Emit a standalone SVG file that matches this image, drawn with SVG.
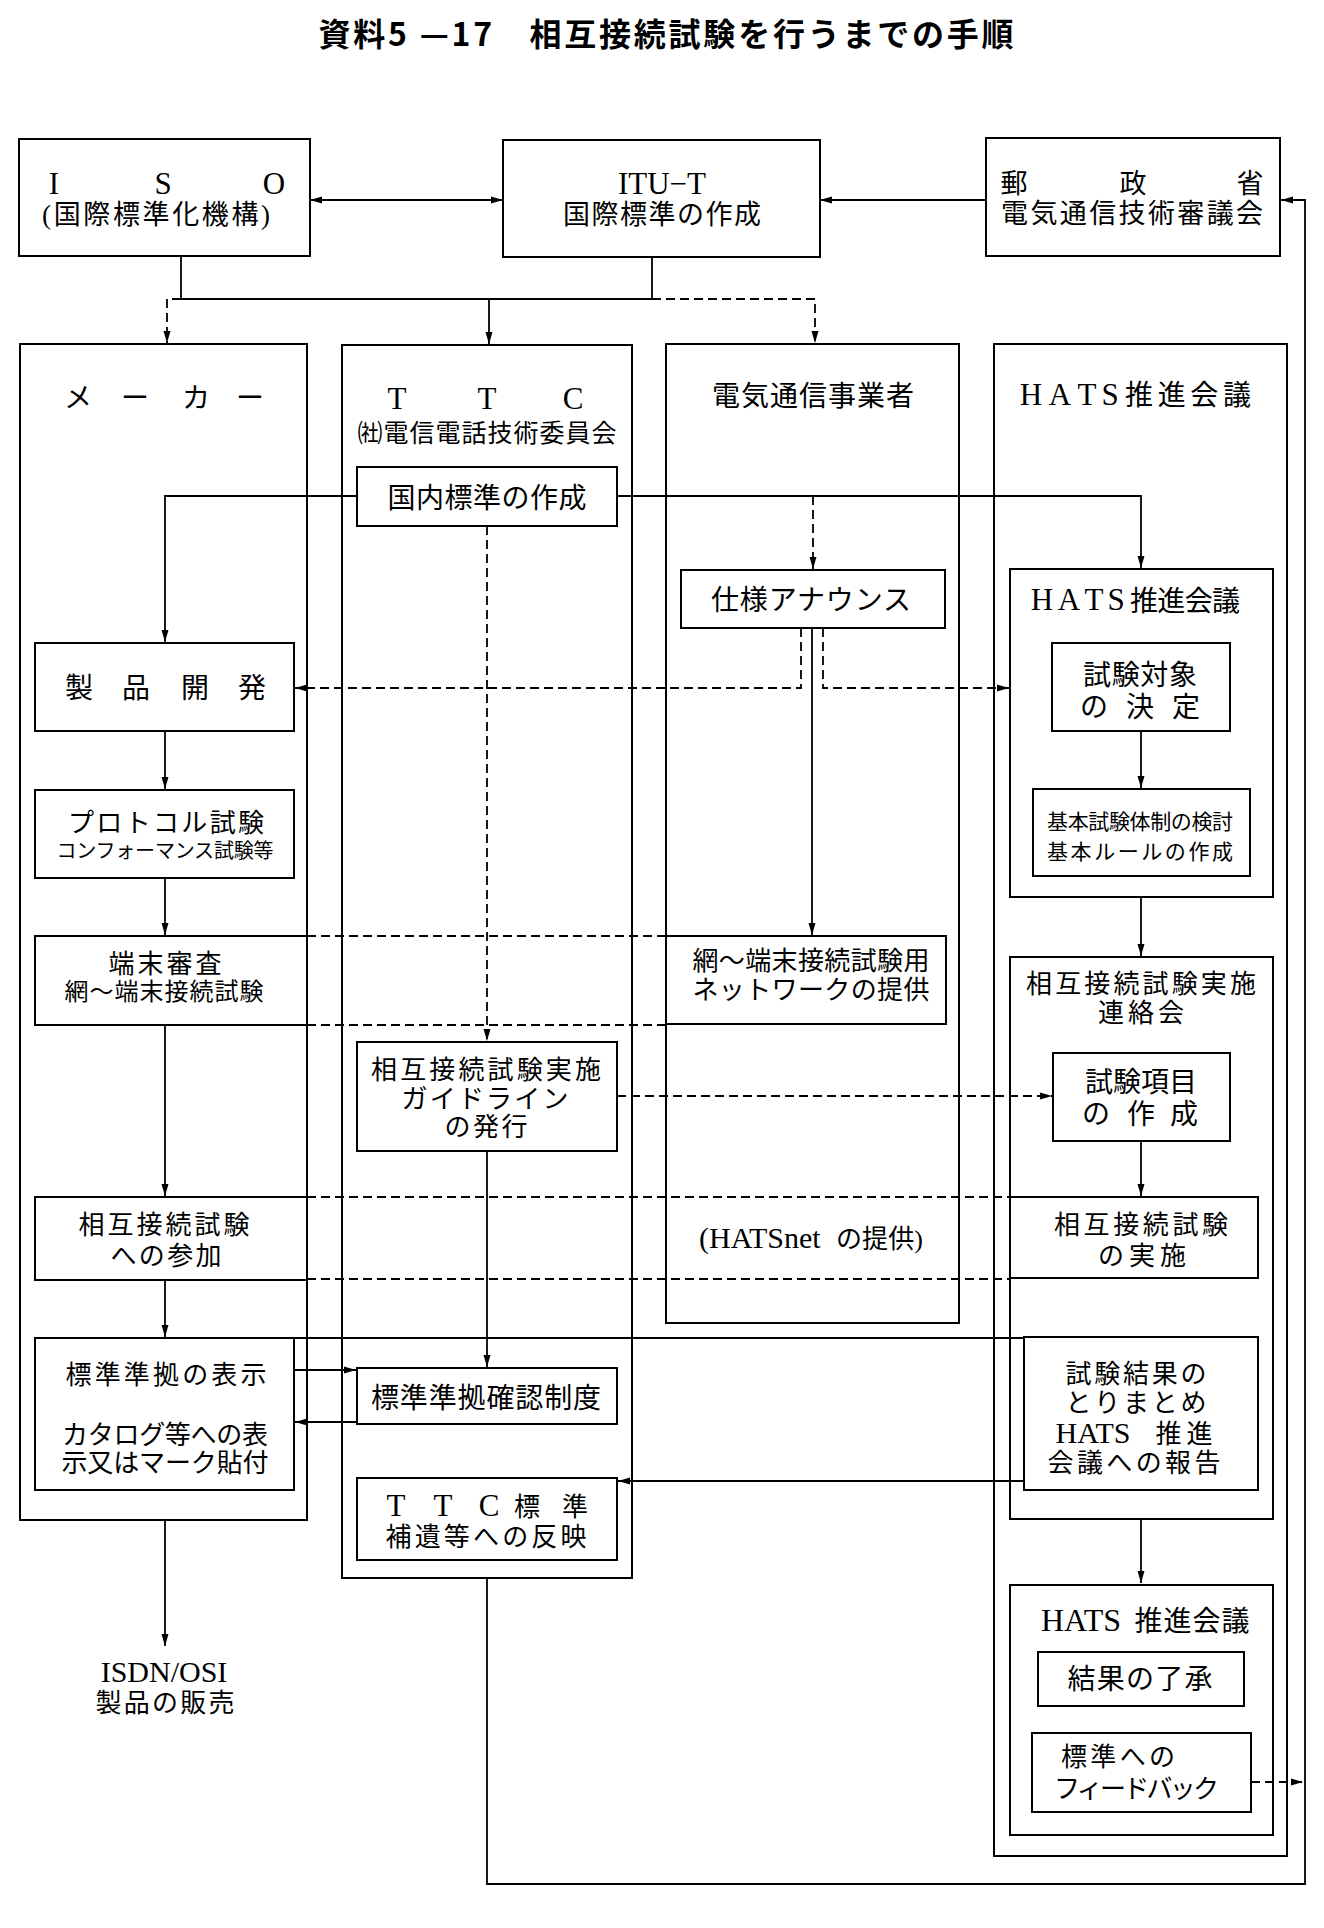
<svg xmlns="http://www.w3.org/2000/svg" width="1324" height="1928" viewBox="0 0 1324 1928">
<style>
.b{fill:none;stroke:#000;stroke-width:2}
.c{fill:none;stroke:#000;stroke-width:1.8}
.d{fill:none;stroke:#000;stroke-width:1.8;stroke-dasharray:9 5}
.a{marker-end:url(#ah)}
.t{font-family:"Liberation Serif","Noto Sans CJK JP",serif;font-size:26px;fill:#000;text-anchor:middle}
.l{font-size:28px}
.s{font-family:"Liberation Serif",serif;font-size:31px;fill:#000;text-anchor:middle}
.sm{font-size:21px}
.xs{font-size:20px}
.title{font-family:"Noto Sans CJK JP",sans-serif;font-weight:bold;font-size:32px;fill:#000;text-anchor:middle}
</style>
<defs>
<marker id="ah" viewBox="0 0 12 10" refX="12" refY="5" markerWidth="12" markerHeight="10" markerUnits="userSpaceOnUse" orient="auto-start-reverse">
<path d="M0,1.5 L12,5 L0,8.5 z" fill="#000"/>
</marker>
</defs>
<rect width="1324" height="1928" fill="#fff"/>
<text class="title" x="666" y="46" textLength="695">資料5 —17　相互接続試験を行うまでの手順</text>

<g id="connectors">
<path class="c" d="M310,200 H503" marker-start="url(#ah)" marker-end="url(#ah)"/>
<path class="c a" d="M986,200 H820"/>
<path class="c" d="M181,256 V299 H652 M652,257 V299"/>
<path class="d a" d="M181,299 H167 V343"/>
<path class="c a" d="M489,299 V344"/>
<path class="d a" d="M652,299 H815 V343"/>
<path class="c a" d="M357,496 H165 V642"/>
<path class="c a" d="M617,496 H1141 V568"/>
<path class="d a" d="M813,496 V569"/>
<path class="d a" d="M487,526 V1041"/>
<path class="c a" d="M812,628 V935"/>
<path class="d a" d="M801,628 V688 H295"/>
<path class="d a" d="M823,628 V688 H1009"/>
<path class="c a" d="M165,731 V789"/>
<path class="c a" d="M165,878 V935"/>
<path class="c a" d="M165,1025 V1196"/>
<path class="c a" d="M165,1280 V1337"/>
<path class="c a" d="M165,1520 V1646"/>
<path class="c a" d="M1141,731 V788"/>
<path class="c a" d="M1141,897 V956"/>
<path class="c a" d="M1141,1141 V1196"/>
<path class="c a" d="M1141,1519 V1583"/>
<path class="d a" d="M617,1096 H1052"/>
<path class="c a" d="M487,1151 V1367"/>
<path class="d" d="M307,936 H666 M307,1025 H666"/>
<path class="d" d="M307,1197 H1010 M307,1279 H1010"/>
<path class="c" d="M294,1338 H1024"/>
<path class="c a" d="M294,1370 H356"/>
<path class="c a" d="M357,1422 H295"/>
<path class="c a" d="M1024,1481 H618"/>
<path class="c a" d="M487,1578 V1884 H1305 V200 H1281"/>
<path class="d a" d="M1251,1782 H1303"/>
</g>

<g id="iso">
<rect class="b" x="19" y="139" width="291" height="117"/>
<text class="s" x="54 163 274" y="194">ISO</text>
<text class="t" x="156" y="224" textLength="228" style="font-size:27px">(国際標準化機構)</text>
</g>
<g id="itu">
<rect class="b" x="503" y="140" width="317" height="117"/>
<text class="s" x="662" y="194">ITU−T</text>
<text class="t" x="662" y="224" textLength="198" style="font-size:27px">国際標準の作成</text>
</g>
<g id="mpt">
<rect class="b" x="986" y="138" width="294" height="118"/>
<text class="t" x="1014 1133 1250" y="193" style="font-size:27px">郵政省</text>
<text class="t" x="1132" y="223" textLength="262" style="font-size:27px">電気通信技術審議会</text>
</g>

<g id="maker">
<rect class="b" x="20" y="344" width="287" height="1176"/>
<text class="t l" x="78 135 196 250" y="408">メーカー</text>
</g>
<g id="ttc">
<rect class="b" x="342" y="345" width="290" height="1233"/>
<text class="s" x="397 487 573" y="409">TTC</text>
<text class="t" x="487" y="442" textLength="259" style="font-size:25px">㈳電信電話技術委員会</text>
</g>
<g id="carrier">
<rect class="b" x="666" y="344" width="293" height="979"/>
<text class="t l" x="813" y="406" textLength="202">電気通信事業者</text>
</g>
<g id="hats">
<rect class="b" x="994" y="344" width="293" height="1512"/>
<text class="s" x="1031 1060 1087 1110" y="405">HATS</text>
<text class="t l" x="1188" y="405" textLength="126">推進会議</text>
</g>

<g id="kokunai">
<rect class="b" x="357" y="467" width="260" height="59"/>
<text class="t l" x="487" y="508" textLength="199">国内標準の作成</text>
</g>
<g id="shiyou">
<rect class="b" x="681" y="570" width="264" height="58"/>
<text class="t l" x="811" y="610" textLength="200">仕様アナウンス</text>
</g>
<g id="hats2">
<rect class="b" x="1010" y="569" width="263" height="328"/>
<text class="s" x="1042 1069 1094 1116" y="610">HATS</text>
<text class="t l" x="1185" y="611" textLength="110">推進会議</text>
</g>
<g id="seihin">
<rect class="b" x="35" y="643" width="259" height="88"/>
<text class="t l" x="79 136 195 252" y="698">製品開発</text>
</g>
<g id="taisho">
<rect class="b" x="1052" y="643" width="178" height="88"/>
<text class="t l" x="1140" y="685" textLength="114">試験対象</text>
<text class="t l" x="1094 1140 1186" y="717">の決定</text>
</g>
<g id="protocol">
<rect class="b" x="35" y="790" width="259" height="88"/>
<text class="t" x="166" y="832" textLength="196">プロトコル試験</text>
<text class="t xs" x="165" y="858" textLength="217">コンフォーマンス試験等</text>
</g>
<g id="kihon">
<rect class="b" x="1033" y="789" width="217" height="87"/>
<text class="t sm" x="1140" y="829" textLength="186">基本試験体制の検討</text>
<text class="t sm" x="1140" y="859" textLength="186">基本ルールの作成</text>
</g>
<g id="tanmatsu">
<rect class="b" x="35" y="936" width="272" height="89"/>
<text class="t" x="165" y="973" textLength="113">端末審査</text>
<text class="t" x="164" y="1000" textLength="199" style="font-size:24px">網～端末接続試験</text>
</g>
<g id="network">
<rect class="b" x="666" y="936" width="280" height="88"/>
<text class="t" x="811" y="970" textLength="237">網～端末接続試験用</text>
<text class="t" x="811" y="999" textLength="237">ネットワークの提供</text>
</g>
<g id="renrakukai">
<rect class="b" x="1010" y="957" width="263" height="562"/>
<text class="t" x="1141" y="993" textLength="230">相互接続試験実施</text>
<text class="t" x="1141" y="1022" textLength="86">連絡会</text>
</g>
<g id="guideline">
<rect class="b" x="357" y="1042" width="260" height="109"/>
<text class="t" x="486" y="1079" textLength="230">相互接続試験実施</text>
<text class="t" x="485" y="1108" textLength="167">ガイドライン</text>
<text class="t" x="486" y="1136" textLength="83">の発行</text>
</g>
<g id="koumoku">
<rect class="b" x="1053" y="1053" width="177" height="88"/>
<text class="t l" x="1141" y="1092" textLength="112">試験項目</text>
<text class="t l" x="1096 1141 1184" y="1124">の作成</text>
</g>
<g id="sanka">
<rect class="b" x="35" y="1197" width="272" height="83"/>
<text class="t" x="164" y="1234" textLength="171">相互接続試験</text>
<text class="t" x="166" y="1265" textLength="111">への参加</text>
</g>
<g id="hatsnet">
<text class="s" x="699" y="1248" style="text-anchor:start;font-size:30px">(HATSnet</text>
<text class="t" x="836" y="1248" textLength="87" style="text-anchor:start">の提供)</text>
</g>
<g id="jisshi">
<rect class="b" x="1010" y="1197" width="248" height="81"/>
<text class="t" x="1141" y="1234" textLength="174">相互接続試験</text>
<text class="t" x="1142" y="1265" textLength="88">の実施</text>
</g>
<g id="hyouji">
<rect class="b" x="35" y="1338" width="259" height="152"/>
<text class="t" x="166" y="1384" textLength="201">標準準拠の表示</text>
<text class="t" x="165" y="1444" textLength="206">カタログ等への表</text>
<text class="t" x="165" y="1472" textLength="207">示又はマーク貼付</text>
</g>
<g id="kakunin">
<rect class="b" x="357" y="1368" width="260" height="56"/>
<text class="t l" x="486" y="1408" textLength="230">標準準拠確認制度</text>
</g>
<g id="kekka">
<rect class="b" x="1024" y="1337" width="234" height="153"/>
<text class="t" x="1136" y="1383" textLength="141">試験結果の</text>
<text class="t" x="1136" y="1412" textLength="141">とりまとめ</text>
<text class="s" x="1093" y="1443" style="font-size:30px">HATS</text>
<text class="t" x="1184" y="1443" textLength="57">推進</text>
<text class="t" x="1134" y="1472" textLength="173">会議への報告</text>
</g>
<g id="ttcstd">
<rect class="b" x="357" y="1478" width="260" height="82"/>
<text class="s" x="396 443 489" y="1516">TTC</text>
<text class="t" x="527 575" y="1516">標準</text>
<text class="t" x="486" y="1546" textLength="201">補遺等への反映</text>
</g>
<g id="hats3">
<rect class="b" x="1010" y="1585" width="263" height="250"/>
<text class="s" x="1081" y="1631" style="font-size:32px">HATS</text>
<text class="t l" x="1192" y="1631" textLength="115">推進会議</text>
</g>
<g id="ryoushou">
<rect class="b" x="1038" y="1652" width="206" height="54"/>
<text class="t l" x="1140" y="1689" textLength="145">結果の了承</text>
</g>
<g id="feedback">
<rect class="b" x="1032" y="1733" width="219" height="79"/>
<text class="t" x="1061" y="1766" textLength="114" style="text-anchor:start">標準への</text>
<text class="t" x="1054" y="1798" textLength="165" style="text-anchor:start">フィードバック</text>
</g>
<g id="isdn">
<text class="s" x="164" y="1682" style="font-size:30px">ISDN/OSI</text>
<text class="t" x="165" y="1712" textLength="139">製品の販売</text>
</g>
</svg>
